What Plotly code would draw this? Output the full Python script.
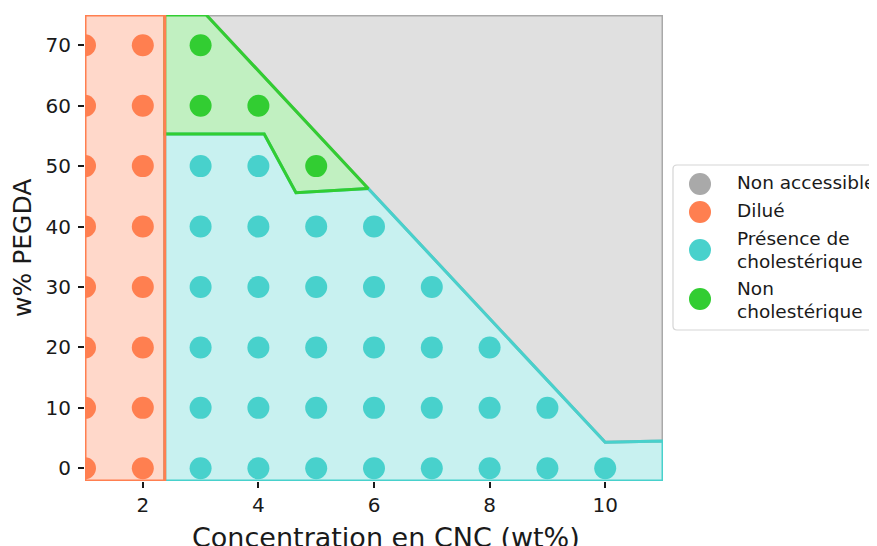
import plotly.graph_objects as go

# measured points (CNC wt%, PEGDA w%)
dilue_x = [1] * 8 + [2] * 8
dilue_y = [0, 10, 20, 30, 40, 50, 60, 70] * 2

chol_x = [3] * 6 + [4] * 6 + [5] * 5 + [6] * 5 + [7] * 4 + [8] * 3 + [9] * 2 + [10]
chol_y = ([0, 10, 20, 30, 40, 50] * 2 + [0, 10, 20, 30, 40] * 2
          + [0, 10, 20, 30] + [0, 10, 20] + [0, 10] + [0])

nonchol_x = [3, 3, 4, 5]
nonchol_y = [70, 60, 60, 50]

# region boundaries
gray_x = [3.1, 11, 11, 10, 5.9, 3.1]
gray_y = [75, 75, 4.5, 4.3, 46.3, 75]
orange_x = [1, 2.38, 2.38, 1, 1]
orange_y = [-2.1, -2.1, 75, 75, -2.1]
green_x = [2.38, 3.1, 5.9, 4.65, 4.1, 2.38, 2.38]
green_y = [75, 75, 46.3, 45.6, 55.3, 55.3, 75]
cyan_x = [2.38, 11, 11, 10, 5.9, 4.65, 4.1, 2.38, 2.38]
cyan_y = [-2.1, -2.1, 4.5, 4.3, 46.3, 45.6, 55.3, 55.3, -2.1]

legend_names = ["Non accessible", "Dilué", "Présence de<br>cholestérique",
                "Non<br>cholestérique"]

GRAY = "#A9A9A9"
ORANGE = "#FF7F50"
CYAN = "#48D1CC"
GREEN = "#32CD32"
colors = [GRAY, ORANGE, CYAN, GREEN]

fig = go.Figure()


def region(x, y, line, fill):
    fig.add_trace(go.Scatter(
        x=x, y=y, mode="lines", fill="toself", fillcolor=fill,
        line=dict(color=line, width=3), showlegend=False, hoverinfo="skip"))


region(gray_x, gray_y, GRAY, "#E0E0E0")
region(cyan_x, cyan_y, CYAN, "rgba(72,209,204,0.3)")
region(green_x, green_y, GREEN, "rgba(50,205,50,0.3)")
region(orange_x, orange_y, ORANGE, "rgba(255,127,80,0.3)")

mk = dict(size=22)
for xs, ys, name, col in [(dilue_x, dilue_y, legend_names[1], ORANGE),
                          (chol_x, chol_y, legend_names[2], CYAN),
                          (nonchol_x, nonchol_y, legend_names[3], GREEN)]:
    fig.add_trace(go.Scatter(x=xs, y=ys, mode="markers", name=name,
                             marker=dict(color=col, **mk), showlegend=False))

# hand-drawn legend (matplotlib style), pixel positions -> paper coords
L, R, T, B = 85, 663, 15, 481


def px(v):
    return (v - L) / (R - L)


def py(v):
    return (B - v) / (B - T)


shapes = []
annotations = []
x0, x1, y0, y1 = px(673), px(895), py(165), py(330)
rx, ry = 4 / (R - L), 4 / (B - T)
path = (f"M{x0 + rx},{y0} L{x1},{y0} L{x1},{y1} L{x0 + rx},{y1} "
        f"Q{x0},{y1} {x0},{y1 + ry} L{x0},{y0 - ry} Q{x0},{y0} {x0 + rx},{y0} Z")
shapes.append(dict(type="path", xref="paper", yref="paper", path=path,
                   fillcolor="white", line=dict(color="#D5D5D5", width=1.2)))

marker_y = [184, 212, 250, 299]
text_lines = [[183], [211], [238, 261], [288, 311]]
for name, col, my, lines in zip(legend_names, colors, marker_y, text_lines):
    shapes.append(dict(type="circle", xref="paper", yref="paper",
                       xsizemode="pixel", ysizemode="pixel",
                       xanchor=px(700), yanchor=py(my),
                       x0=-11, x1=11, y0=-11, y1=11,
                       fillcolor=col, line=dict(width=0)))
    for part, ly in zip(name.split("<br>"), lines):
        annotations.append(dict(xref="paper", yref="paper", x=px(735), y=py(ly),
                                xanchor="left", yanchor="middle", text=part,
                                showarrow=False, font=dict(size=18.5)))

annotations.append(dict(xref="paper", yref="paper", x=px(386), y=py(537),
                        xanchor="center", yanchor="middle",
                        text="Concentration en CNC (wt%)", showarrow=False,
                        font=dict(size=27)))
annotations.append(dict(xref="paper", yref="paper", x=px(22), y=py(248),
                        xanchor="center", yanchor="middle", textangle=-90,
                        text="w% PEGDA", showarrow=False, font=dict(size=25)))

fig.update_layout(
    width=877, height=546,
    margin=dict(l=77, r=222, t=7, b=73, autoexpand=False),
    paper_bgcolor="white", plot_bgcolor="white",
    font=dict(family="DejaVu Sans", size=20, color="#1a1a1a"),
    showlegend=False,
    shapes=shapes,
    annotations=annotations,
    xaxis=dict(range=[1, 11], tickvals=[2, 4, 6, 8, 10], showgrid=False,
               zeroline=False, ticks="outside", ticklen=6, tickwidth=1.5,
               tickcolor="#1a1a1a", tickfont=dict(size=20)),
    yaxis=dict(range=[-2.1, 75], tickvals=list(range(0, 80, 10)), showgrid=False,
               zeroline=False, ticks="outside", ticklen=6, tickwidth=1.5,
               tickcolor="#1a1a1a", tickfont=dict(size=20),
               ticklabelstandoff=3),
)

fig.write_html("out.html")
